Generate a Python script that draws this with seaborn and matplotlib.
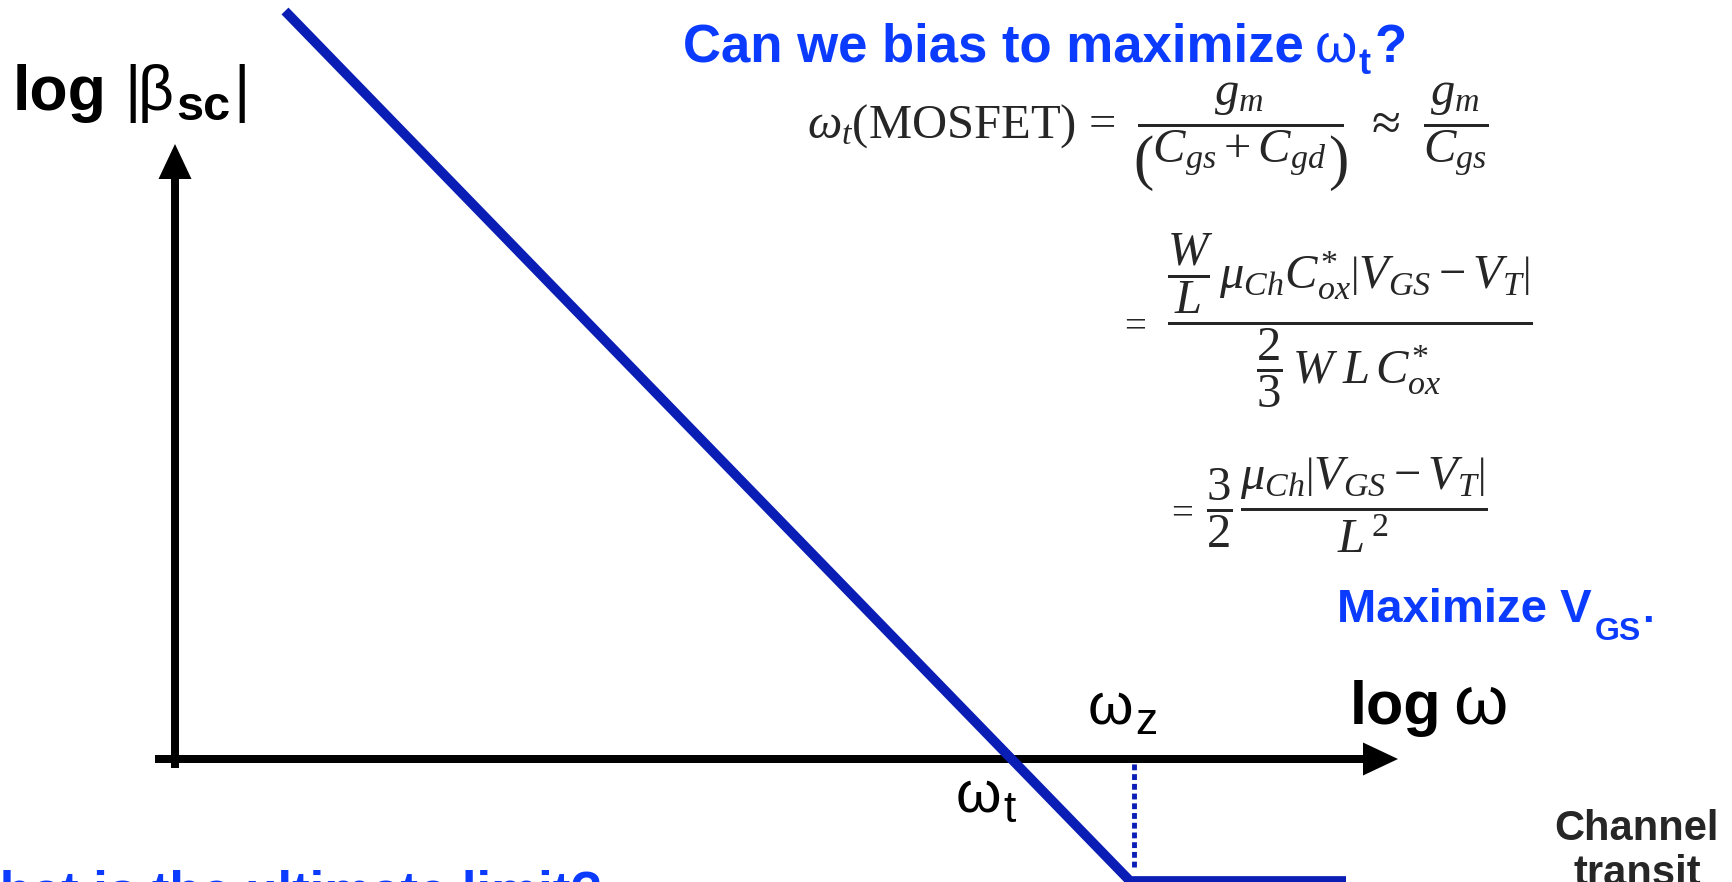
import matplotlib
matplotlib.use("Agg")
import matplotlib.pyplot as plt
import seaborn as sns
from matplotlib.patches import FancyArrow

# Asymptotic short-circuit current gain, log|beta_sc| against log(omega), in decades
log_omega = [1.10, 9.55, 11.71]
log_beta = [7.48, -1.22, -1.22]
omega_z = 9.59            # zero frequency marker
x_axis_span = [-0.20, 12.23]
y_axis_span = [-0.09, 6.15]

LINE_BLUE = "#0A1DB5"
TEXT_BLUE = "#0B3BFF"
W, H = 1733, 882

sns.set_theme(style="white")
plt.rcParams["font.family"] = ["Liberation Sans", "DejaVu Sans"]
plt.rcParams.update({
    "mathtext.fontset": "custom",
    "mathtext.rm": "Liberation Serif",
    "mathtext.it": "Liberation Serif:italic",
    "mathtext.bf": "Liberation Serif:bold",
})

fig = plt.figure(figsize=(W / 100, H / 100), dpi=100)
ax = fig.add_axes([0, 0, 1, 1])
ax.set_xlim(-1.75, 15.58)
ax.set_ylim(-1.23, 7.59)
ax.set_axis_off()

# axes drawn as arrows
ax.add_patch(FancyArrow(x_axis_span[0], 0, x_axis_span[1] - x_axis_span[0], 0,
                        width=0.08, head_width=0.33, head_length=0.35,
                        length_includes_head=True, color="black", lw=0, zorder=2))
ax.add_patch(FancyArrow(0, y_axis_span[0], 0, y_axis_span[1] - y_axis_span[0],
                        width=0.08, head_width=0.33, head_length=0.35,
                        length_includes_head=True, color="black", lw=0, zorder=2))

# gain asymptote
sns.lineplot(x=log_omega, y=log_beta, ax=ax, color=LINE_BLUE, linewidth=7,
             solid_capstyle="butt", solid_joinstyle="miter", zorder=3)
ax.vlines(omega_z, -1.08, -0.03, color=LINE_BLUE, lw=3.5,
          linestyles=[(0, (1.2, 0.8))], zorder=3)

renderer = fig.canvas.get_renderer()


def put(x, y, s, **kw):
    return fig.text(x / W, 1 - y / H, s, **kw)


def run(x, y, pieces, color="black"):
    """Lay out text pieces left to right: (text, size, weight, rise_px, gap_px)."""
    for s, size, weight, rise, gap in pieces:
        t = put(x, y - rise, s, fontsize=size, fontweight=weight, color=color,
                ha="left", va="baseline")
        x = t.get_window_extent(renderer).x1 + gap


# titles and labels
run(683, 62, [("Can we bias to maximize", 38, "bold", 0, 11),
              ("ω", 39, "normal", 0, 1), ("t", 26, "bold", -12, 4),
              ("?", 38, "bold", 0, 0)], color=TEXT_BLUE)
run(13, 110, [("log", 45, "bold", 0, 18), ("|", 45, "normal", 0, -4),
              ("β", 45, "normal", 0, 3), ("sc", 35, "bold", -10, 3),
              ("|", 45, "normal", 0, 0)])
run(1350, 724, [("log", 44, "bold", 0, 12), ("ω", 50, "normal", 0, 0)])
run(1088, 724, [("ω", 42, "normal", 0, 2), ("z", 32, "normal", -10, 0)])
run(956, 812, [("ω", 42, "normal", 0, 2), ("t", 32, "normal", -10, 0)])
run(1337, 622, [("Maximize V", 34, "bold", 0, 3), ("GS", 23, "bold", -18, 1),
                (".", 30, "bold", 0, 0)], color=TEXT_BLUE)
put(1637, 840, "Channel", fontsize=30, fontweight="bold", ha="center", va="baseline")
put(1637, 885, "transit", fontsize=30, fontweight="bold", ha="center", va="baseline")
put(602, 909, "What is the ultimate limit?", fontsize=38, fontweight="bold",
    color=TEXT_BLUE, ha="right", va="baseline")

# transit-frequency derivation
EQ = 35
put(807, 138, r"$\omega_t(\mathrm{MOSFET})\,=$", fontsize=EQ, ha="left", va="baseline")
put(1240, 138, r"$\dfrac{g_m}{\;\,C_{gs}+C_{gd}\;\,}$", fontsize=EQ,
    ha="center", va="baseline")
put(1144, 178, "(", fontsize=44, family="Liberation Serif", ha="center", va="baseline")
put(1338, 178, ")", fontsize=44, family="Liberation Serif", ha="center", va="baseline")
put(1382, 138, r"$\approx$", fontsize=38, ha="center", va="baseline")
put(1456, 138, r"$\dfrac{g_m}{C_{gs}}$", fontsize=EQ, ha="center", va="baseline")

put(1133, 336, r"$=$", fontsize=28, ha="center", va="baseline")
put(1350, 336,
    r"$\dfrac{\dfrac{W}{L}\,\mu_{Ch}C_{ox}^{*}\left|V_{GS}-V_{T}\right|}"
    r"{\dfrac{2}{3}\,W\;L\,C_{ox}^{*}}$",
    fontsize=EQ, ha="center", va="baseline")

put(1180, 523, r"$=$", fontsize=28, ha="center", va="baseline")
put(1219, 523, r"$\dfrac{3}{2}$", fontsize=EQ, ha="center", va="baseline")
put(1364, 523, r"$\dfrac{\mu_{Ch}\left|V_{GS}-V_{T}\right|}{L^{\,2}}$",
    fontsize=EQ, ha="center", va="baseline")

fig.savefig("out.png", dpi=100)
